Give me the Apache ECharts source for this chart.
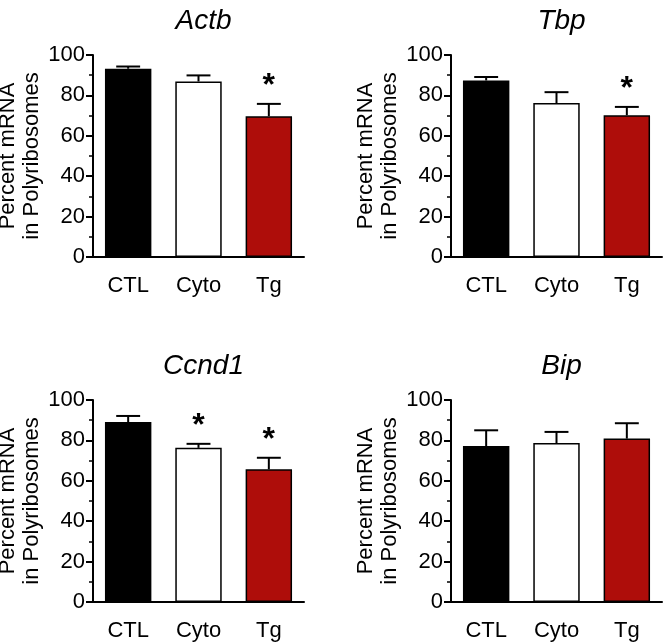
<!DOCTYPE html>
<html>
<head>
<meta charset="utf-8">
<script src="https://cdn.jsdelivr.net/npm/echarts@6/dist/echarts.min.js"></script>
<style>
  html, body { margin: 0; padding: 0; background: #fff; }
  #main { width: 667px; height: 642px; }
</style>
</head>
<body>
<div id="main"></div>
<script>
var groups = ["CTL", "Cyto", "Tg"];
var genes = ["Actb", "Tbp", "Ccnd1", "Bip"];
var yTicks = [0, 20, 40, 60, 80, 100];

// mean percent, upper SEM, significance flag (1 = *)
var actbMean = [93.2, 86.9, 69.7];
var actbErr = [1.1, 3.0, 6.1];
var actbSig = [0, 0, 1];
var tbpMean = [87.4, 76.2, 70.2];
var tbpErr = [1.7, 5.4, 4.1];
var tbpSig = [0, 0, 1];
var ccnd1Mean = [89.1, 76.3, 65.7];
var ccnd1Err = [3.0, 2.0, 5.7];
var ccnd1Sig = [0, 1, 1];
var bipMean = [77.2, 78.7, 80.9];
var bipErr = [7.8, 5.5, 7.6];
var bipSig = [0, 0, 0];

var barColors = ["#000000", "#ffffff", "#ae0d0a"];
var font = "'Liberation Sans', Arial, Helvetica, sans-serif";

var panels = [
  { mean: actbMean, err: actbErr, sig: actbSig, left: 93, top: 55, width: 211, height: 202 },
  { mean: tbpMean, err: tbpErr, sig: tbpSig, left: 451, top: 55, width: 211, height: 202 },
  { mean: ccnd1Mean, err: ccnd1Err, sig: ccnd1Sig, left: 93, top: 400, width: 211, height: 202 },
  { mean: bipMean, err: bipErr, sig: bipSig, left: 451, top: 400, width: 211, height: 202 }
];

function renderErr(params, api) {
  var x = api.value(0);
  var m = api.value(1);
  var e = api.value(2);
  var s = api.value(3);
  var base = api.coord([x, m]);
  var top = api.coord([x, m + e]);
  var half = api.size([1, 0])[0] * 0.17;
  var style = { stroke: "#000", lineWidth: 2 };
  var children = [
    { type: "line", shape: { x1: base[0], y1: base[1], x2: top[0], y2: top[1] }, style: style },
    { type: "line", shape: { x1: top[0] - half, y1: top[1], x2: top[0] + half, y2: top[1] }, style: style }
  ];
  if (s) {
    children.push({
      type: "text",
      x: top[0],
      y: top[1] - 2,
      style: {
        text: "*", fill: "#000", font: "bold 32px " + font,
        align: "center", verticalAlign: "bottom"
      }
    });
  }
  return { type: "group", children: children };
}

var chart = echarts.init(document.getElementById("main"), null, { renderer: "canvas" });

var option = {
  backgroundColor: "#ffffff",
  animation: false,
  title: [],
  grid: [],
  xAxis: [],
  yAxis: [],
  series: []
};

panels.forEach(function (p, i) {
  option.title.push({
    text: genes[i],
    left: p.left + p.width / 2,
    top: p.top - 53,
    textAlign: "center",
    textStyle: { fontFamily: font, fontStyle: "italic", fontWeight: "normal", fontSize: 28, color: "#000" }
  });
  option.grid.push({
    left: p.left, top: p.top, width: p.width, height: p.height,
    containLabel: false, outerBoundsMode: "none"
  });
  option.xAxis.push({
    type: "category",
    gridIndex: i,
    data: groups,
    boundaryGap: true,
    axisLine: { lineStyle: { color: "#000", width: 2 } },
    axisTick: { alignWithLabel: true, length: 6, lineStyle: { color: "#000", width: 2 } },
    axisLabel: { color: "#000", fontFamily: font, fontSize: 22, margin: 18 }
  });
  option.yAxis.push({
    type: "value",
    gridIndex: i,
    min: yTicks[0],
    max: yTicks[yTicks.length - 1],
    interval: 20,
    name: "Percent mRNA\nin Polyribosomes",
    nameLocation: "middle",
    nameRotate: 90,
    nameGap: 46,
    nameTextStyle: { color: "#000", fontFamily: font, fontSize: 22, lineHeight: 24 },
    axisLine: { show: true, lineStyle: { color: "#000", width: 2 } },
    axisTick: { show: true, length: 7, lineStyle: { color: "#000", width: 2 } },
    minorTick: { show: true, splitNumber: 2, length: 4, lineStyle: { color: "#000", width: 1.5 } },
    splitLine: { show: false },
    axisLabel: { color: "#000", fontFamily: font, fontSize: 22, margin: 8 }
  });
  option.series.push({
    type: "bar",
    xAxisIndex: i,
    yAxisIndex: i,
    barWidth: "66%",
    data: p.mean.map(function (v, k) {
      return { value: v, itemStyle: { color: barColors[k] } };
    }),
    itemStyle: { borderColor: "#000", borderWidth: 1.5 }
  });
  option.series.push({
    type: "custom",
    xAxisIndex: i,
    yAxisIndex: i,
    z: 5,
    renderItem: renderErr,
    encode: { x: 0, y: 1 },
    data: p.mean.map(function (v, k) {
      return [k, v, p.err[k], p.sig[k]];
    })
  });
});

chart.setOption(option);
</script>
</body>
</html>
